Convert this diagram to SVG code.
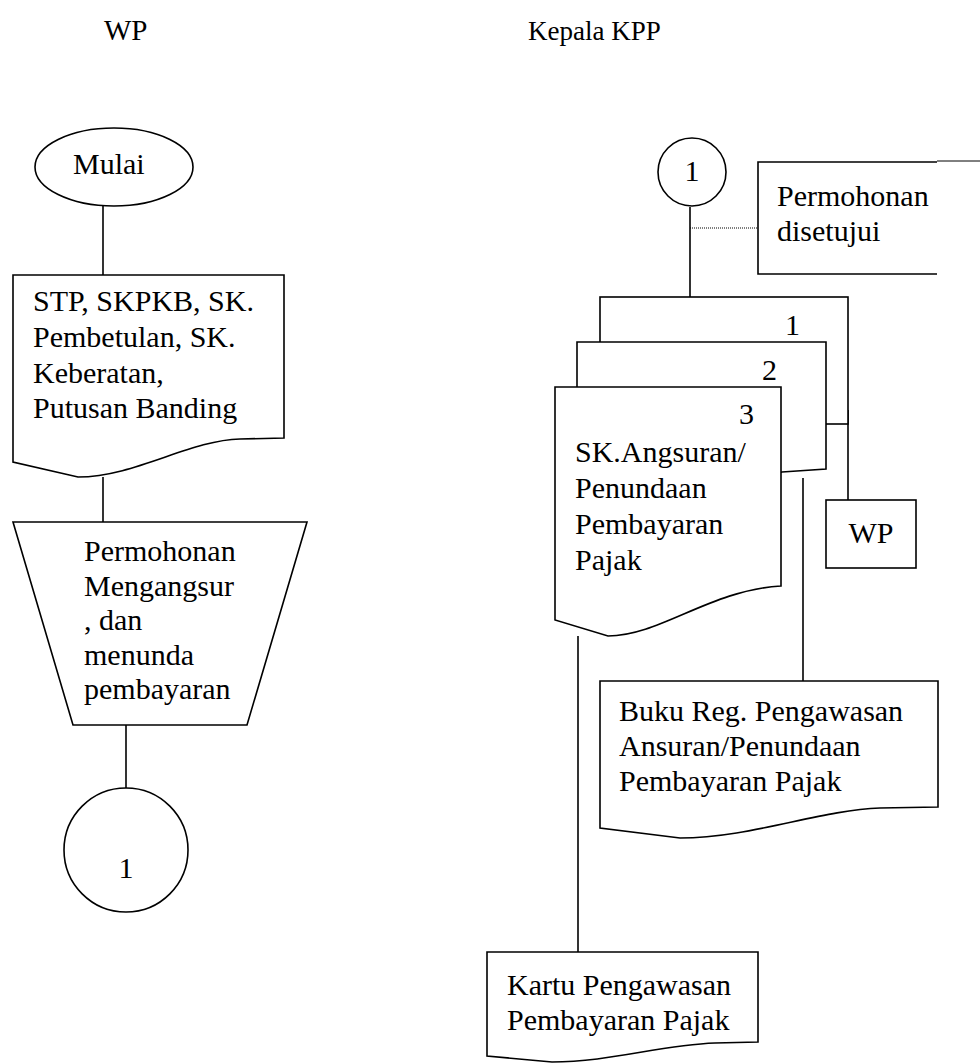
<svg xmlns="http://www.w3.org/2000/svg" width="980" height="1063" viewBox="0 0 980 1063">
<style>
.s{fill:#fff;stroke:#000;stroke-width:1.6}
.o{fill:none;stroke:#000;stroke-width:1.6}
.c{fill:none;stroke:#000;stroke-width:1.6}
.t{font-family:"Liberation Serif","Times New Roman",serif;font-size:30px;fill:#000}
.h{font-family:"Liberation Serif","Times New Roman",serif;font-size:29px;fill:#000}
.k{font-family:"Liberation Serif","Times New Roman",serif;font-size:27px;fill:#000}
</style>
<rect width="980" height="1063" fill="#fff"/>
<text class="h" x="104" y="40">WP</text>
<text class="k" x="528" y="40">Kepala KPP</text>
<g id="connectors">
<line class="c" x1="103" y1="206" x2="103" y2="275"/>
<line class="c" x1="103" y1="477" x2="103" y2="522"/>
<line class="c" x1="126" y1="725" x2="126" y2="788"/>
<line class="c" x1="690" y1="207" x2="690" y2="297"/>
<line x1="690" y1="228" x2="758" y2="228" stroke="#000" stroke-width="1" stroke-dasharray="1,1"/>
<line class="c" x1="848" y1="410" x2="848" y2="500"/>
<line class="c" x1="803" y1="478" x2="803" y2="681"/>
<line class="c" x1="578" y1="636" x2="578" y2="952"/>
</g>
<g id="mulai">
<ellipse class="s" cx="114" cy="167" rx="79" ry="39"/>
<text class="t" x="73" y="174">Mulai</text>
</g>
<g id="dokumen-stp">
<path class="s" d="M13,275 H284 V438 L240,439 C190,440 135,477 78,477 L13,462 Z"/>
<text class="t" x="33" y="311">STP, SKPKB, SK.</text>
<text class="t" x="33" y="347">Pembetulan, SK.</text>
<text class="t" x="33" y="383">Keberatan,</text>
<text class="t" x="33" y="418">Putusan Banding</text>
</g>
<g id="permohonan-mengangsur">
<path class="s" d="M13,522 H307 L247,725 H73 Z"/>
<text class="t" x="84" y="561">Permohonan</text>
<text class="t" x="84" y="596">Mengangsur</text>
<text class="t" x="84" y="630">, dan</text>
<text class="t" x="84" y="665">menunda</text>
<text class="t" x="84" y="699">pembayaran</text>
</g>
<g id="konektor-1-kiri">
<circle class="s" cx="126" cy="850" r="62"/>
<text class="t" x="126" y="878" text-anchor="middle">1</text>
</g>
<g id="konektor-1-kanan">
<circle class="s" cx="692" cy="172" r="34"/>
<text class="t" x="692" y="181" text-anchor="middle">1</text>
</g>
<g id="permohonan-disetujui">
<path class="o" d="M937,162 H758 V274 H937"/>
<line x1="937" y1="161" x2="980" y2="161" stroke="#000" stroke-width="1"/>
<text class="t" x="777" y="206">Permohonan</text>
<text class="t" x="777" y="241">disetujui</text>
</g>
<g id="sk-angsuran">
<rect class="s" x="600" y="297" width="248" height="127"/>
<text class="t" x="785" y="335">1</text>
<path class="s" d="M577,342 H826 V469 L782,472 C740,480 700,515 637,515 L577,503 Z"/>
<text class="t" x="762" y="380">2</text>
<path class="s" d="M555,387 H781 V586 C710,590 660,636 608,636 L555,620 Z"/>
<text class="t" x="739" y="424">3</text>
<text class="t" x="575" y="462">SK.Angsuran/</text>
<text class="t" x="575" y="498">Penundaan</text>
<text class="t" x="575" y="534">Pembayaran</text>
<text class="t" x="575" y="570">Pajak</text>
</g>
<g id="wp">
<rect class="s" x="826" y="500" width="90" height="68"/>
<text class="t" x="871" y="543" text-anchor="middle">WP</text>
</g>
<g id="buku-reg">
<path class="s" d="M600,681 H938 V807 L880,808 C820,810 750,838 680,838 L600,828 Z"/>
<text class="t" x="619" y="721">Buku Reg. Pengawasan</text>
<text class="t" x="619" y="756">Ansuran/Penundaan</text>
<text class="t" x="619" y="791">Pembayaran Pajak</text>
</g>
<g id="kartu-pengawasan">
<path class="s" d="M487,952 H758 V1042 L715,1043 C660,1045 610,1062 552,1062 L487,1056 Z"/>
<text class="t" x="507" y="995">Kartu Pengawasan</text>
<text class="t" x="507" y="1030">Pembayaran Pajak</text>
</g>
</svg>
